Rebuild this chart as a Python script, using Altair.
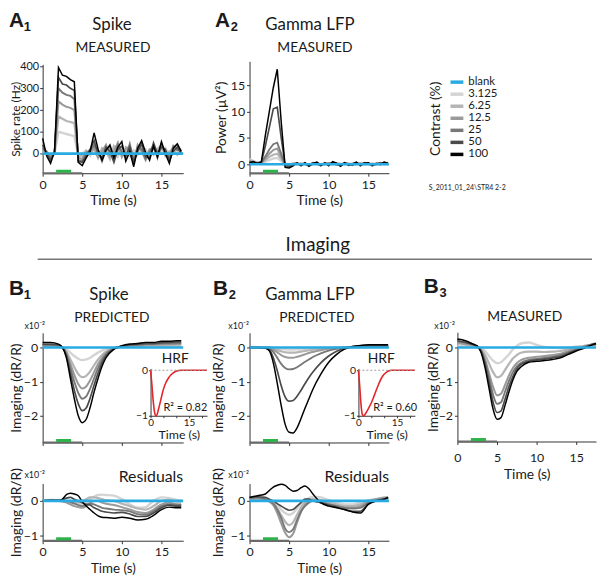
import altair as alt
import pandas as pd

FONT = "Lato"
BOLD_FONT = "Liberation Sans"
W, H = 590, 565
OX, OY = 14, 14  # page position of chart origin (8px page margin + 6px padding)

# ---------------- data ----------------
CONTRASTS = ["3.125", "6.25", "12.5", "25", "50", "100"]
LEGEND_ITEMS = ["blank"] + CONTRASTS
COLORS = ["#29abe2", "#d4d4d4", "#b5b5b5", "#9a9a9a", "#787878", "#4a4a4a", "#000000"]
WIDTHS = [2.6, 1.5, 1.5, 1.5, 1.5, 1.6, 2.0]

STIM = [1.7, 3.6]
TRIAL_BAR = [0, 5]
BLANK = [0.0, 0.0]

T_A = [0, 0.5, 1, 1.5, 2, 2.5, 3, 3.5, 4, 4.5, 5, 5.5, 6, 6.5, 7, 7.5, 8, 8.5, 9, 9.5,
       10, 10.5, 11, 11.5, 12, 12.5, 13, 13.5, 14, 14.5, 15, 15.5, 16, 16.5, 17, 17.5]

A1_SPIKE = {
    "3.125": [5, 5, -5, 0, 100, 95, 90, 85, 80, -10, 0, 15, -10, 25, 10, -10, 35, 5, 20, -15,
              30, 10, -10, 15, -5, 25, 20, -15, 30, 10, 5, 25, -10, 35, 20, 0],
    "6.25": [10, 0, -10, 5, 170, 160, 150, 145, 140, -15, -10, 5, 15, 20, -20, 25, 10, -25, 35, 20,
             -5, 30, 10, -20, 20, 35, -10, 15, -5, 20, 40, -10, 10, 20, -5, 15],
    "12.5": [15, 5, -15, 0, 240, 225, 215, 210, 200, -20, -25, 10, 0, 30, -15, 10, 40, -10, 10, 50,
             -15, 20, 35, -45, 40, 10, -30, 20, 25, -10, 25, 15, -25, 30, 40, 5],
    "25": [25, 10, -20, 0, 300, 280, 270, 265, 250, -30, -35, 0, 15, 40, 10, -35, 20, 30, -25, 40,
           10, -20, 45, -30, 30, 20, -25, 5, 40, -20, 45, -5, -20, 35, 15, 20],
    "50": [40, 0, -30, 5, 350, 320, 315, 300, 290, -35, -40, -10, 20, 60, 0, -20, 30, 10, -40, 20,
           35, -10, 30, -40, 10, 45, -15, -20, 50, 0, 30, 20, -30, 10, 30, 0],
    "100": [70, -10, -45, 10, 395, 360, 355, 340, 330, -40, -55, -20, 10, 95, 20, -30, 15, 40, -20, 30,
            55, -35, 10, -60, 25, 60, 5, -30, 35, -15, 55, 0, -45, 25, 45, 10],
}

A2_LFP = {
    "3.125": [1.0, 0.6, 0.3, 0.2, 0.5, 0.8, 1.1, 1.2, 0.6, 0.1, 0.0, 0.1, 0.1, 0.0, 0.1, 0.0, 0.1, 0.1, 0.0, 0.1,
              0.1, 0.0, 0.1, 0.1, 0.0, 0.1, 0.0, 0.1, 0.1, 0.0, 0.1, 0.1, 0.0, 0.1, 0.0, 0.1],
    "6.25": [0.8, 0.5, 0.3, 0.3, 0.8, 1.4, 1.8, 2.0, 1.0, 0.0, -0.1, 0.1, 0.0, 0.1, 0.1, -0.1, 0.0, 0.2, 0.0, 0.1,
             0.0, 0.1, 0.2, 0.0, 0.1, 0.0, 0.1, 0.0, 0.2, 0.1, 0.0, 0.1, 0.0, 0.1, 0.1, 0.0],
    "12.5": [0.6, 0.4, 0.2, 0.3, 1.1, 2.0, 2.7, 3.0, 1.4, -0.1, -0.2, 0.0, 0.1, 0.1, 0.0, -0.2, 0.1, 0.3, -0.1, 0.0,
             0.1, 0.1, 0.1, -0.1, 0.2, 0.1, 0.0, 0.1, 0.1, 0.0, 0.1, 0.0, 0.1, 0.2, 0.0, 0.1],
    "25": [0.5, 0.2, 0.3, 0.3, 1.5, 2.8, 3.8, 4.1, 2.0, -0.2, -0.3, 0.1, 0.2, -0.1, 0.1, -0.3, 0.2, 0.2, -0.2, 0.1,
           0.2, 0.2, -0.1, -0.2, 0.3, 0.0, -0.1, 0.2, 0.0, 0.1, 0.2, -0.1, 0.0, 0.3, 0.1, 0.0],
    "50": [0.4, 0.3, 0.2, 0.4, 3.5, 7.0, 10.5, 10.8, 5.0, -0.3, -0.4, -0.1, 0.3, -0.3, 0.2, -0.2, 0.3, 0.1, -0.3, 0.3,
           -0.1, 0.4, 0.0, -0.3, 0.2, 0.1, -0.2, 0.3, -0.1, 0.3, 0.1, -0.3, 0.1, 0.2, 0.3, 0.1],
    "100": [0.3, 0.5, 0.1, 0.5, 5.5, 10.0, 14.5, 18.0, 8.0, -0.6, -0.7, -0.3, 0.2, -0.2, 0.3, -0.4, 0.1, 0.4, -0.2, 0.2,
            -0.3, 0.5, 0.2, -0.4, 0.3, -0.2, 0.1, 0.4, -0.3, 0.2, 0.3, -0.2, 0.2, -0.1, 0.4, 0.2],
}

T_B = [0, 1, 2, 2.5, 3, 3.5, 4, 4.5, 5, 5.5, 6, 6.5, 7, 7.5, 8, 9, 10, 11, 12, 13, 14, 15, 16, 17, 17.5]

B1_PRED = {
    "3.125": [0.02, 0.02, 0.01, 0.0, -0.05, -0.15, -0.25, -0.33, -0.37, -0.35, -0.3, -0.22, -0.15, -0.09, -0.05,
              -0.01, 0.01, 0.02, 0.02, 0.03, 0.03, 0.03, 0.03, 0.04, 0.04],
    "6.25": [0.04, 0.04, 0.03, 0.0, -0.12, -0.35, -0.58, -0.78, -0.87, -0.83, -0.7, -0.52, -0.35, -0.22, -0.12,
             -0.02, 0.02, 0.04, 0.05, 0.06, 0.06, 0.07, 0.07, 0.08, 0.08],
    "12.5": [0.06, 0.06, 0.05, 0.0, -0.16, -0.48, -0.8, -1.07, -1.2, -1.14, -0.96, -0.72, -0.48, -0.3, -0.16,
             -0.02, 0.02, 0.05, 0.06, 0.08, 0.08, 0.09, 0.1, 0.1, 0.1],
    "25": [0.08, 0.08, 0.06, 0.0, -0.2, -0.6, -1.0, -1.33, -1.5, -1.43, -1.2, -0.9, -0.6, -0.37, -0.2,
           -0.03, 0.03, 0.06, 0.08, 0.1, 0.1, 0.12, 0.12, 0.13, 0.13],
    "50": [0.1, 0.1, 0.08, 0.0, -0.25, -0.75, -1.25, -1.65, -1.85, -1.77, -1.48, -1.1, -0.75, -0.45, -0.25,
           -0.04, 0.04, 0.08, 0.1, 0.12, 0.12, 0.14, 0.15, 0.16, 0.16],
    "100": [0.15, 0.15, 0.1, 0.0, -0.3, -0.9, -1.5, -2.0, -2.2, -2.1, -1.75, -1.3, -0.9, -0.55, -0.3,
            -0.05, 0.05, 0.1, 0.12, 0.15, 0.15, 0.18, 0.18, 0.2, 0.2],
}

B2_PRED = {
    "3.125": [0, 0, 0, 0, -0.01, -0.03, -0.04, -0.05, -0.06, -0.06, -0.05, -0.05, -0.04, -0.03, -0.02,
              -0.01, -0.01, 0, 0, 0, 0.01, 0.01, 0.01, 0.01, 0.01],
    "6.25": [0, 0, 0, 0, -0.03, -0.07, -0.11, -0.14, -0.15, -0.15, -0.14, -0.12, -0.1, -0.08, -0.06,
             -0.04, -0.02, -0.01, 0, 0.01, 0.01, 0.01, 0.02, 0.02, 0.02],
    "12.5": [0, 0, 0, -0.01, -0.06, -0.14, -0.22, -0.28, -0.3, -0.3, -0.27, -0.24, -0.2, -0.16, -0.13,
             -0.08, -0.04, -0.02, 0, 0.01, 0.02, 0.02, 0.03, 0.03, 0.03],
    "25": [0, 0, 0, -0.03, -0.13, -0.3, -0.48, -0.6, -0.64, -0.63, -0.58, -0.5, -0.42, -0.35, -0.28,
           -0.17, -0.09, -0.04, 0, 0.02, 0.03, 0.04, 0.04, 0.04, 0.04],
    "50": [0, 0, -0.01, -0.06, -0.3, -0.68, -1.12, -1.45, -1.57, -1.55, -1.43, -1.25, -1.06, -0.88, -0.72,
           -0.45, -0.25, -0.11, -0.02, 0.03, 0.05, 0.06, 0.06, 0.06, 0.06],
    "100": [0, 0, -0.02, -0.1, -0.45, -1.05, -1.7, -2.25, -2.48, -2.5, -2.35, -2.08, -1.78, -1.5, -1.22,
            -0.78, -0.43, -0.2, -0.05, 0.03, 0.06, 0.08, 0.08, 0.08, 0.08],
}

B3_MEAS = {
    "3.125": [0.05, 0.05, 0.02, 0.0, -0.02, -0.1, -0.25, -0.38, -0.46, -0.43, -0.32, -0.2, -0.05, 0.05, 0.12,
              0.15, 0.08, 0.02, 0.0, -0.02, 0.0, 0.03, 0.05, 0.08, 0.06],
    "6.25": [0.12, 0.1, 0.05, 0.02, -0.05, -0.22, -0.47, -0.72, -0.87, -0.83, -0.66, -0.48, -0.32, -0.22, -0.15,
             -0.12, -0.12, -0.13, -0.12, -0.1, -0.05, 0.0, 0.04, 0.08, 0.08],
    "12.5": [0.15, 0.1, 0.08, 0.02, -0.08, -0.35, -0.75, -1.15, -1.4, -1.35, -1.1, -0.82, -0.6, -0.45, -0.37,
             -0.3, -0.27, -0.25, -0.22, -0.18, -0.1, -0.04, 0.03, 0.08, 0.1],
    "25": [0.18, 0.15, 0.1, 0.03, -0.1, -0.42, -0.9, -1.38, -1.65, -1.6, -1.3, -0.98, -0.72, -0.55, -0.45,
           -0.36, -0.33, -0.3, -0.27, -0.22, -0.14, -0.06, 0.02, 0.1, 0.12],
    "50": [0.2, 0.15, 0.08, 0.03, -0.12, -0.5, -1.05, -1.6, -1.9, -1.85, -1.52, -1.15, -0.85, -0.62, -0.5,
           -0.4, -0.36, -0.34, -0.3, -0.26, -0.17, -0.08, 0.0, 0.08, 0.1],
    "100": [0.25, 0.2, 0.1, 0.05, -0.15, -0.6, -1.2, -1.8, -2.1, -2.05, -1.7, -1.3, -0.95, -0.7, -0.57,
            -0.43, -0.4, -0.38, -0.35, -0.3, -0.2, -0.1, -0.02, 0.08, 0.12],
}

B1_RES = {
    "3.125": [0, 0.02, 0.02, 0.0, 0.0, 0.0, -0.03, -0.06, -0.09, -0.05, 0.05, 0.12, 0.17, 0.18, 0.17,
              0.15, 0.05, -0.1, -0.2, -0.18, 0.0, 0.1, 0.08, 0.02, 0.0],
    "6.25": [0, 0.03, 0.02, 0.0, -0.02, -0.05, -0.06, -0.04, 0.0, 0.05, 0.1, 0.1, 0.08, 0.05, 0.02,
             0.0, -0.08, -0.15, -0.22, -0.25, -0.15, 0.0, 0.03, -0.02, -0.02],
    "12.5": [0, 0.02, 0.0, -0.02, -0.05, -0.1, -0.15, -0.18, -0.2, -0.15, -0.05, 0.0, 0.0, -0.05, -0.08,
             -0.12, -0.18, -0.25, -0.32, -0.35, -0.25, -0.1, -0.05, -0.1, -0.1],
    "25": [0, 0.03, 0.02, 0.0, 0.0, -0.03, -0.08, -0.12, -0.15, -0.12, -0.08, -0.1, -0.15, -0.2, -0.22,
           -0.25, -0.27, -0.3, -0.38, -0.4, -0.3, -0.15, -0.1, -0.12, -0.12],
    "50": [0, 0.02, 0.02, 0.03, 0.08, 0.1, 0.05, 0.0, -0.05, -0.1, -0.12, -0.2, -0.25, -0.3, -0.32,
           -0.35, -0.33, -0.38, -0.45, -0.45, -0.35, -0.2, -0.12, -0.15, -0.15],
    "100": [0, 0.0, 0.0, 0.05, 0.18, 0.22, 0.2, 0.15, -0.02, -0.15, -0.25, -0.35, -0.43, -0.47, -0.48,
            -0.5, -0.47, -0.5, -0.55, -0.53, -0.42, -0.25, -0.18, -0.2, -0.2],
}

B2_RES = {
    "3.125": [0.05, 0.05, 0.02, 0.0, -0.05, -0.12, -0.25, -0.35, -0.4, -0.35, -0.22, -0.1, 0.0, 0.08, 0.12,
              0.1, 0.02, -0.05, -0.1, -0.1, -0.05, 0.02, 0.05, 0.08, 0.1],
    "6.25": [0.05, 0.05, 0.02, -0.02, -0.08, -0.22, -0.42, -0.6, -0.7, -0.62, -0.4, -0.2, -0.05, 0.02, 0.05,
             0.02, -0.05, -0.1, -0.15, -0.15, -0.1, 0.0, 0.05, 0.1, 0.12],
    "12.5": [0.05, 0.08, 0.03, -0.02, -0.12, -0.35, -0.65, -0.92, -1.05, -0.95, -0.62, -0.32, -0.12, -0.02, 0.02,
             -0.02, -0.1, -0.15, -0.2, -0.2, -0.15, -0.02, 0.05, 0.08, 0.1],
    "25": [0.08, 0.1, 0.05, 0.0, -0.08, -0.25, -0.5, -0.8, -0.9, -0.82, -0.55, -0.3, -0.15, -0.05, 0.0,
           -0.05, -0.1, -0.15, -0.2, -0.22, -0.2, -0.05, 0.02, 0.05, 0.08],
    "50": [0.1, 0.12, 0.1, 0.05, 0.0, -0.08, -0.15, -0.22, -0.27, -0.25, -0.15, -0.05, 0.05, 0.05, 0.0,
           -0.05, -0.12, -0.18, -0.25, -0.3, -0.3, -0.08, 0.0, 0.05, 0.08],
    "100": [0.1, 0.15, 0.2, 0.3, 0.4, 0.45, 0.48, 0.45, 0.35, 0.28, 0.3, 0.38, 0.43, 0.35, 0.2,
            -0.05, -0.15, -0.2, -0.25, -0.32, -0.35, -0.1, 0.0, 0.05, 0.1],
}

T_HRF1 = [0, 0.5, 1, 1.5, 2, 2.5, 3, 4, 5, 6, 7, 8, 9, 10, 12, 15, 20, 22]
HRF_SPIKE = [0, -0.3, -0.65, -0.9, -1.0, -0.98, -0.88, -0.65, -0.42, -0.27, -0.17, -0.1, -0.05, -0.02, 0, 0, 0, 0]
T_HRF2 = [0, 0.5, 1, 1.5, 2, 2.5, 3, 4, 5, 6, 7, 8, 9, 10, 11, 12, 13, 15, 20, 22]
HRF_LFP = [0, -0.35, -0.75, -0.97, -1.0, -0.98, -0.93, -0.83, -0.72, -0.58, -0.43, -0.29, -0.17, -0.09,
           -0.04, -0.01, 0, 0, 0, 0]
HRF_ZERO = [0, 22]
R2_SPIKE = 0.82
R2_LFP = 0.60

# ---------------- helpers ----------------
CSCALE = alt.Scale(domain=LEGEND_ITEMS, range=COLORS)
WSCALE = alt.Scale(domain=LEGEND_ITEMS, range=WIDTHS)
ONE = pd.DataFrame({"k": [0]})


def long_df(ts, series):
    rows = []
    for c in CONTRASTS:
        for t, v in zip(ts, series[c]):
            rows.append({"t": t, "v": v, "c": c})
    return pd.DataFrame(rows)


def xscale(dom, p0, p1):
    return alt.Scale(domain=dom, range=[p0 - OX, p1 - OX], nice=False, zero=False)


def yscale(dom, pbot, ptop):
    return alt.Scale(domain=dom, range=[pbot - OY, ptop - OY], nice=False, zero=False)


def offsets(xpix, ypix):
    # Vega: bottom axis at y = height + offset; left axis at x = -offset
    return (ypix[0] - OY) - H, -(xpix[0] - OX)


def panel(ts, series, xdom, xpix, ydom, ypix, xax, yax, interp, title_x, title_baseline="middle"):
    xs = xscale(xdom, *xpix)
    ys = yscale(ydom, *ypix)
    xo, yo = offsets(xpix, ypix)
    xa = alt.Axis(orient="bottom", offset=xo, **xax)
    ya = alt.Axis(orient="left", offset=yo, titleX=title_x - xpix[0], titleBaseline=title_baseline, **yax)
    bar = pd.DataFrame({"a": [TRIAL_BAR[0]], "b": [TRIAL_BAR[1]]})
    stim = pd.DataFrame({"a": [STIM[0]], "b": [STIM[1]]})
    blank = pd.DataFrame({"t": [xdom[0], xdom[1]], "v": BLANK, "c": ["blank", "blank"]})
    lines = alt.Chart(long_df(ts, series)).mark_line(interpolate=interp).encode(
        x=alt.X("t:Q", scale=xs, axis=xa),
        y=alt.Y("v:Q", scale=ys, axis=ya),
        color=alt.Color("c:N", scale=CSCALE, legend=None),
        strokeWidth=alt.StrokeWidth("c:N", scale=WSCALE, legend=None),
    )
    blankl = alt.Chart(blank).mark_line().encode(
        x=alt.X("t:Q", scale=xs),
        y=alt.Y("v:Q", scale=ys),
        color=alt.Color("c:N", scale=CSCALE, legend=None),
        strokeWidth=alt.StrokeWidth("c:N", scale=WSCALE, legend=None),
    )
    barl = alt.Chart(bar).mark_rule(color="#6a6a6a", strokeWidth=2).encode(
        x=alt.X("a:Q", scale=xs), x2="b:Q",
        y=alt.Y(datum=ydom[0], scale=ys))
    stiml = alt.Chart(stim).mark_rule(color="#2db34a", strokeWidth=3, yOffset=-2).encode(
        x=alt.X("a:Q", scale=xs), x2="b:Q",
        y=alt.Y(datum=ydom[0], scale=ys))
    return alt.layer(lines, blankl, barl, stiml)


def hrf_panel(ts, vals, xpix, ypix):
    xdom, ydom = [0, 22], [-1, 0.04]
    xs = xscale(xdom, *xpix)
    ys = yscale(ydom, *ypix)
    xo, yo = offsets(xpix, ypix)
    xa = alt.Axis(orient="bottom", offset=xo, values=[0, 5, 10, 15, 20],
                  labelExpr="datum.value == 0 || datum.value == 15 ? datum.label : ''",
                  title="Time (s)", labelFontSize=10, titleFontSize=12.5, tickSize=2, titlePadding=1,
                  labelPadding=0)
    ya = alt.Axis(orient="left", offset=yo, values=[0, -1], format="d", title=None,
                  labelFontSize=10.5, tickSize=2, labelPadding=1)
    df = pd.DataFrame({"t": ts, "v": vals})
    zero = pd.DataFrame({"a": [HRF_ZERO[0]], "b": [HRF_ZERO[1]]})
    line = alt.Chart(df).mark_line(color="#e3262b", strokeWidth=1.6, interpolate="monotone").encode(
        x=alt.X("t:Q", scale=xs, axis=xa), y=alt.Y("v:Q", scale=ys, axis=ya))
    zl = alt.Chart(zero).mark_rule(color="#9a9a9a", strokeWidth=1, strokeDash=[2, 2]).encode(
        x=alt.X("a:Q", scale=xs), x2="b:Q", y=alt.Y(datum=0, scale=ys))
    return alt.layer(line, zl)


def txt(s, x, y, size, align="center", weight="normal", font=FONT, angle=0, baseline="alphabetic",
        color="#1a1a1a"):
    return alt.Chart(ONE).mark_text(text=s, align=align, baseline=baseline, fontSize=size,
                                    fontWeight=weight, font=font, angle=angle, color=color).encode(
        x=alt.value(x - OX), y=alt.value(y - OY))


TICKS = [0, 5, 10, 15]
TIME_AX = dict(values=TICKS, title="Time (s)")
RES_X = dict(values=TICKS, title="Time (s)", labelPadding=2, titlePadding=4, titleFontSize=13.5)
B3_X = dict(values=TICKS, title="Time (s)", labelPadding=7, titlePadding=4)
NOLAB_AX = dict(values=TICKS, labels=False, title=None)
IMG_Y = dict(values=[0, -1, -2], format="d", title="Imaging (dR/R)")
RES_Y = dict(values=[0, -1], format="d", title="Imaging (dR/R)")

layers = []
layers.append(panel(T_A, A1_SPIKE, [0, 17.75], (43, 185), [-90, 410], (172, 62), TIME_AX,
                    dict(values=[0, 100, 200, 300, 400], title="Spike rate (Hz)", labelFontSize=11,
                         labelPadding=1, titleFontSize=12), "linear", 19.5, "alphabetic"))
layers.append(panel(T_A, A2_LFP, [0, 17.6], (252, 392.8), [-1.7, 19.5], (172, 59), TIME_AX,
                    dict(values=[0, 5, 10, 15], title="Power (µV²)"), "linear", 224))
layers.append(panel(T_B, B1_PRED, [0, 17.75], (43, 185), [-2.78, 0.43], (444, 333.2), NOLAB_AX,
                    IMG_Y, "monotone", 16.5))
layers.append(panel(T_B, B1_RES, [0, 17.75], (43, 185), [-1.15, 0.5], (543.25, 485.5), RES_X,
                    RES_Y, "monotone", 16.5))
layers.append(panel(T_B, B2_PRED, [0, 17.6], (252, 392.8), [-2.78, 0.43], (444, 333.2), NOLAB_AX,
                    IMG_Y, "monotone", 221))
layers.append(panel(T_B, B2_RES, [0, 17.6], (252, 392.8), [-1.15, 0.5], (543.25, 485.5), RES_X,
                    RES_Y, "monotone", 221))
layers.append(panel(T_B, B3_MEAS, [0, 17.5], (462, 602), [-2.75, 0.45], (443, 332.6), B3_X,
                    IMG_Y, "monotone", 438))
layers.append(hrf_panel(T_HRF1, HRF_SPIKE, (152, 209), (417, 369.2)))
layers.append(hrf_panel(T_HRF2, HRF_LFP, (362, 419), (417, 369.2)))

# legend
leg_df = pd.DataFrame({"c": LEGEND_ITEMS})
leg_y = alt.Scale(type="point", domain=LEGEND_ITEMS, range=[80 - OY, 153 - OY], padding=0)
leg_sw = alt.Chart(leg_df).mark_rule(strokeWidth=3.5).encode(
    x=alt.value(455 - OX), x2=alt.value(468 - OX),
    y=alt.Y("c:N", scale=leg_y, axis=None),
    color=alt.Color("c:N", scale=CSCALE, legend=None))
leg_tx = alt.Chart(leg_df).mark_text(align="left", baseline="middle", fontSize=11.5, font=FONT,
                                     color="#1a1a1a").encode(
    x=alt.value(473 - OX), y=alt.Y("c:N", scale=leg_y, axis=None), text="c:N")
layers.append(alt.layer(leg_sw, leg_tx))

# divider
layers.append(alt.Chart(ONE).mark_rule(color="#777777", strokeWidth=1.5).encode(
    x=alt.value(38 - OX), x2=alt.value(598 - OX), y=alt.value(259 - OY)))

notes = [
    txt("A", 9, 24, 21, "left", "bold", BOLD_FONT), txt("1", 24, 28, 13, "left", "bold", BOLD_FONT),
    txt("Spike", 113, 27, 17), txt("MEASURED", 114, 50, 14),
    txt("A", 217, 24, 21, "left", "bold", BOLD_FONT), txt("2", 233, 28, 13, "left", "bold", BOLD_FONT),
    txt("Gamma LFP", 313, 27, 17), txt("MEASURED", 318, 50, 14),
    txt("Contrast (%)", 440, 117, 14, angle=270, baseline="middle"),
    txt("S_2011_01_24\\STR4 2-2", 433, 189, 7, "left"),
    txt("Imaging", 321, 251, 19),
    txt("B", 9, 295, 21, "left", "bold", BOLD_FONT), txt("1", 24, 299, 13, "left", "bold", BOLD_FONT),
    txt("Spike", 110, 300, 17), txt("PREDICTED", 113, 322, 14),
    txt("B", 215, 295, 21, "left", "bold", BOLD_FONT), txt("2", 231, 299, 13, "left", "bold", BOLD_FONT),
    txt("Gamma LFP", 313, 300, 17), txt("PREDICTED", 320, 322, 14),
    txt("B", 428, 293, 21, "left", "bold", BOLD_FONT), txt("3", 444, 297, 13, "left", "bold", BOLD_FONT),
    txt("MEASURED", 530, 321, 14),
    txt("x10⁻²", 35, 329, 9), txt("x10⁻²", 241, 329, 9), txt("x10⁻²", 449, 329, 9),
    txt("x10⁻²", 35, 480, 9), txt("x10⁻²", 241, 480, 9),
    txt("Residuals", 185, 484, 16, "right"), txt("Residuals", 393, 484, 16, "right"),
    txt("HRF", 177, 364, 14), txt("HRF", 385, 364, 14),
    txt(f"R² = {R2_SPIKE:.2f}", 165, 412, 11, "left"), txt(f"R² = {R2_LFP:.2f}", 377, 412, 11, "left"),
]
layers.extend(notes)

chart = alt.layer(*layers).resolve_scale(x="independent", y="independent").resolve_axis(
    x="independent", y="independent").properties(
    width=W, height=H,
    padding={"left": 6, "top": 6, "right": 0, "bottom": 0},
    autosize=alt.AutoSizeParams(type="none"),
).configure_view(stroke=None).configure_axis(
    grid=False, labelFlush=False, labelOverlap=False, domainColor="#333333", tickColor="#333333",
    labelColor="#1a1a1a", titleColor="#1a1a1a", labelFont=FONT, titleFont=FONT, labelFontSize=12.5,
    titleFontSize=14, titleFontWeight="normal", tickSize=3, labelPadding=2, titlePadding=3, domainWidth=1,
)

chart.save("out.html", embed_options={"renderer": "svg", "actions": False})
